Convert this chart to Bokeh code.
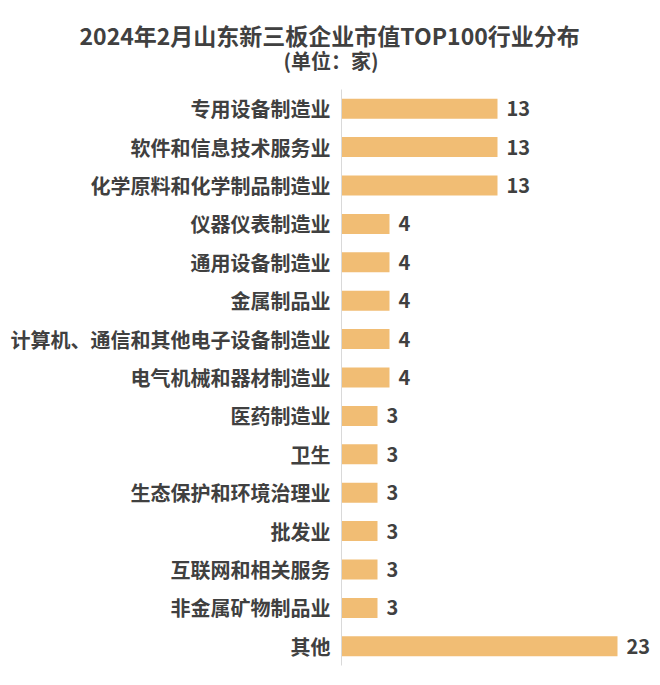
from bokeh.plotting import figure
from bokeh.models import ColumnDataSource, LabelSet, Title, Range1d
from bokeh.core.properties import value
from bokeh.embed import file_html
from bokeh.resources import INLINE

categories = [
    "专用设备制造业",
    "软件和信息技术服务业",
    "化学原料和化学制品制造业",
    "仪器仪表制造业",
    "通用设备制造业",
    "金属制品业",
    "计算机、通信和其他电子设备制造业",
    "电气机械和器材制造业",
    "医药制造业",
    "卫生",
    "生态保护和环境治理业",
    "批发业",
    "互联网和相关服务",
    "非金属矿物制品业",
    "其他",
]
counts = [13, 13, 13, 4, 4, 4, 4, 4, 3, 3, 3, 3, 3, 3, 23]

FONT = "Noto Sans CJK SC"
TEXT = "#404040"
BAR = "#F1BD74"

src = ColumnDataSource(dict(cat=categories, val=counts, lbl=[str(v) for v in counts]))

W, H = 660, 685
left = 341
p = figure(
    width=W, height=H,
    y_range=list(reversed(categories)),
    x_range=Range1d(0, (W - left) / 12.0),
    output_backend="svg", toolbar_location=None,
    min_border_left=left, min_border_right=0,
    min_border_top=0, min_border_bottom=H - 665,
)

# spacer (outermost title)
p.title.text = " "
p.title.text_font = FONT
p.title.text_font_size = "14.6px"
p.title.standoff = 0

# gap between subtitle and plot frame
gap = Title(text=" ", text_font=FONT, text_font_size="1px", standoff=12)
p.add_layout(gap, "above")

sub = Title(text="(单位：家)", text_font=FONT, text_font_size="20px",
            text_font_style="bold", text_color=TEXT, align="left",
            offset=-58, standoff=0)
p.add_layout(sub, "above")
main = Title(text="2024年2月山东新三板企业市值TOP100行业分布", text_font=FONT,
             text_font_size="23px", text_font_style="bold", text_color=TEXT,
             align="left", offset=-262, standoff=-16)
p.add_layout(main, "above")

p.hbar(y="cat", right="val", left=0, height=0.52, source=src,
       fill_color=BAR, line_color=None)

labels = LabelSet(x="val", y="cat", text="lbl", source=src, x_offset=9,
                  text_baseline="middle", text_align="left",
                  text_font=value(FONT), text_font_size=value("20px"),
                  text_font_style=value("bold"), text_color=value(TEXT))
p.add_layout(labels)

p.xaxis.visible = False
p.xgrid.visible = False
p.ygrid.visible = False
p.outline_line_color = None
ya = p.yaxis[0]
ya.axis_line_color = "#D9D9D9"
ya.axis_line_width = 1
ya.major_tick_line_color = None
ya.minor_tick_line_color = None
ya.major_tick_out = 0
ya.major_tick_in = 0
ya.major_label_standoff = 11
ya.major_label_text_font = FONT
ya.major_label_text_font_size = "20px"
ya.major_label_text_font_style = "bold"
ya.major_label_text_color = TEXT

open("out.html", "w").write(file_html(p, INLINE))
